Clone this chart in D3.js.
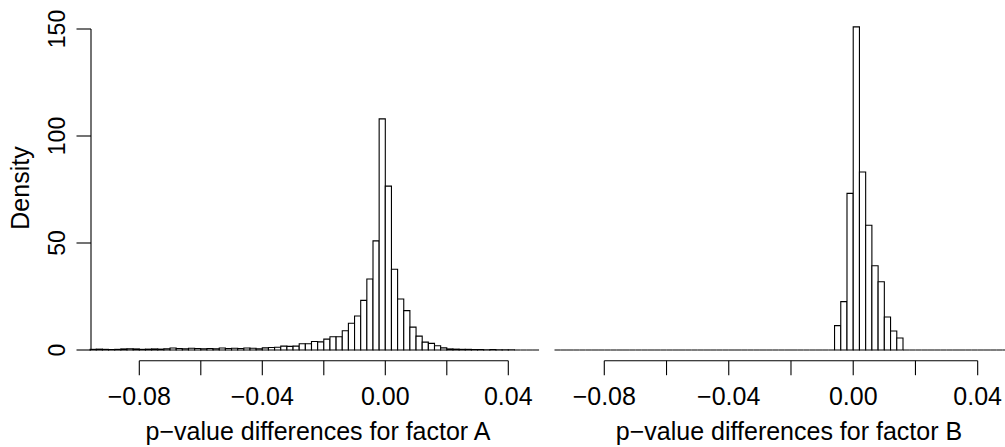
<!DOCTYPE html>
<html>
<head>
<meta charset="utf-8">
<script src="https://cdn.jsdelivr.net/npm/d3@7"></script>
<style>
  html, body { margin: 0; padding: 0; background: #fff; }
  svg { display: block; }
  text { font-family: "Liberation Sans", Arial, Helvetica, sans-serif; fill: #000; }
</style>
</head>
<body>
<svg id="chart" width="1005" height="447"></svg>
<script>
// ---- data ----
const binStart = -0.096;
const binWidth = 0.002;
// densities for factor A, bins of width 0.002 from -0.096 to 0.05
const densityA = [
  0.3, 0.4, 0.3, 0.2, 0.3, 0.5, 0.6, 0.5, 0.3, 0.4,
  0.5, 0.4, 0.6, 0.9, 0.7, 0.6, 0.8, 0.7, 0.6, 0.7,
  0.6, 0.9, 0.7, 0.8, 0.7, 0.9, 0.8, 0.6, 1.0, 1.2,
  1.3, 1.8, 1.7, 1.8, 2.9, 2.9, 4.0, 3.8, 5.1, 6.2,
  6.2, 9.0, 12.5, 15.9, 23.2, 33.2, 51.0, 108.0, 76.6, 37.7,
  23.8, 18.4, 10.7, 6.5, 3.7, 3.1, 2.0, 1.0, 0.5, 0.4,
  0.3, 0.3, 0.2, 0.2, 0.1, 0.2, 0.1, 0.1, 0.1, 0,
  0, 0, 0
];
// densities for factor B, same bins
const densityB = [
  0, 0, 0, 0, 0, 0, 0, 0, 0, 0,
  0, 0, 0, 0, 0, 0, 0, 0, 0, 0,
  0, 0, 0, 0, 0, 0, 0, 0, 0, 0,
  0, 0, 0, 0, 0, 0, 0, 0, 0, 0,
  0, 0, 0, 0, 0, 11.4, 22.6, 73.2, 151.0, 83.2,
  58.3, 39.4, 31.9, 15.4, 8.9, 5.6, 0, 0, 0, 0,
  0, 0, 0, 0, 0, 0, 0, 0, 0, 0,
  0, 0, 0
];
const xTicks = [-0.08, -0.06, -0.04, -0.02, 0.00, 0.02, 0.04];
const xTickLabels = ["\u22120.08", "", "\u22120.04", "", "0.00", "", "0.04"];
const yTicks = [0, 50, 100, 150];
const xTitles = ["p\u2212value differences for factor A", "p\u2212value differences for factor B"];
const yTitle = "Density";

// ---- layout ----
const svg = d3.select("#chart");
const fs = 25;
const y = d3.scaleLinear().domain([0, 150]).range([350, 29]);
const xDomain = [binStart, binStart + binWidth * densityA.length];

const panels = [
  { data: densityA, x: d3.scaleLinear().domain(xDomain).range([90.1, 539.05]), title: xTitles[0], titleX: 318, yaxis: true },
  { data: densityB, x: d3.scaleLinear().domain(xDomain).range([554.5, 1008.8]), title: xTitles[1], titleX: 789, yaxis: false }
];

panels.forEach(p => {
  const g = svg.append("g");
  // bars (zero-height bins render as a line on the baseline)
  g.selectAll("path.bar").data(p.data).join("path")
    .attr("class", "bar")
    .attr("d", (d, i) => {
      const x0 = p.x(binStart + i * binWidth), x1 = p.x(binStart + (i + 1) * binWidth);
      return `M${x0},${y(0)}V${y(d)}H${x1}V${y(0)}Z`;
    })
    .attr("fill", "#fff")
    .attr("stroke", "#000")
    .attr("stroke-width", 1.1);

  // x axis
  const ax = g.append("g").attr("transform", "translate(0,360.7)");
  ax.append("line")
    .attr("x1", p.x(xTicks[0])).attr("x2", p.x(xTicks[xTicks.length - 1]))
    .attr("y1", 0).attr("y2", 0).attr("stroke", "#000").attr("stroke-width", 1.1);
  ax.selectAll("line.tick").data(xTicks).join("line")
    .attr("class", "tick")
    .attr("x1", d => p.x(d)).attr("x2", d => p.x(d))
    .attr("y1", 0).attr("y2", 14.5).attr("stroke", "#000").attr("stroke-width", 1.1);
  ax.selectAll("text").data(xTicks).join("text")
    .attr("x", d => p.x(d)).attr("y", 44.3)
    .attr("text-anchor", "middle").attr("font-size", fs)
    .text((d, i) => xTickLabels[i]);

  g.append("text")
    .attr("x", p.titleX).attr("y", 440)
    .attr("text-anchor", "middle").attr("font-size", fs)
    .text(p.title);

  if (p.yaxis) {
    const ay = g.append("g").attr("transform", "translate(91,0)");
    ay.append("line")
      .attr("x1", 0).attr("x2", 0).attr("y1", y(0)).attr("y2", y(150))
      .attr("stroke", "#000").attr("stroke-width", 1.1);
    ay.selectAll("line.tick").data(yTicks).join("line")
      .attr("class", "tick")
      .attr("x1", -14.5).attr("x2", 0).attr("y1", d => y(d)).attr("y2", d => y(d))
      .attr("stroke", "#000").attr("stroke-width", 1.1);
    ay.selectAll("text").data(yTicks).join("text")
      .attr("transform", d => `translate(-26,${y(d)}) rotate(-90)`)
      .attr("text-anchor", "middle").attr("font-size", 23)
      .text(d => d);
    svg.append("text")
      .attr("transform", "translate(29,188) rotate(-90)")
      .attr("text-anchor", "middle").attr("font-size", fs)
      .text(yTitle);
  }
});
</script>
</body>
</html>
